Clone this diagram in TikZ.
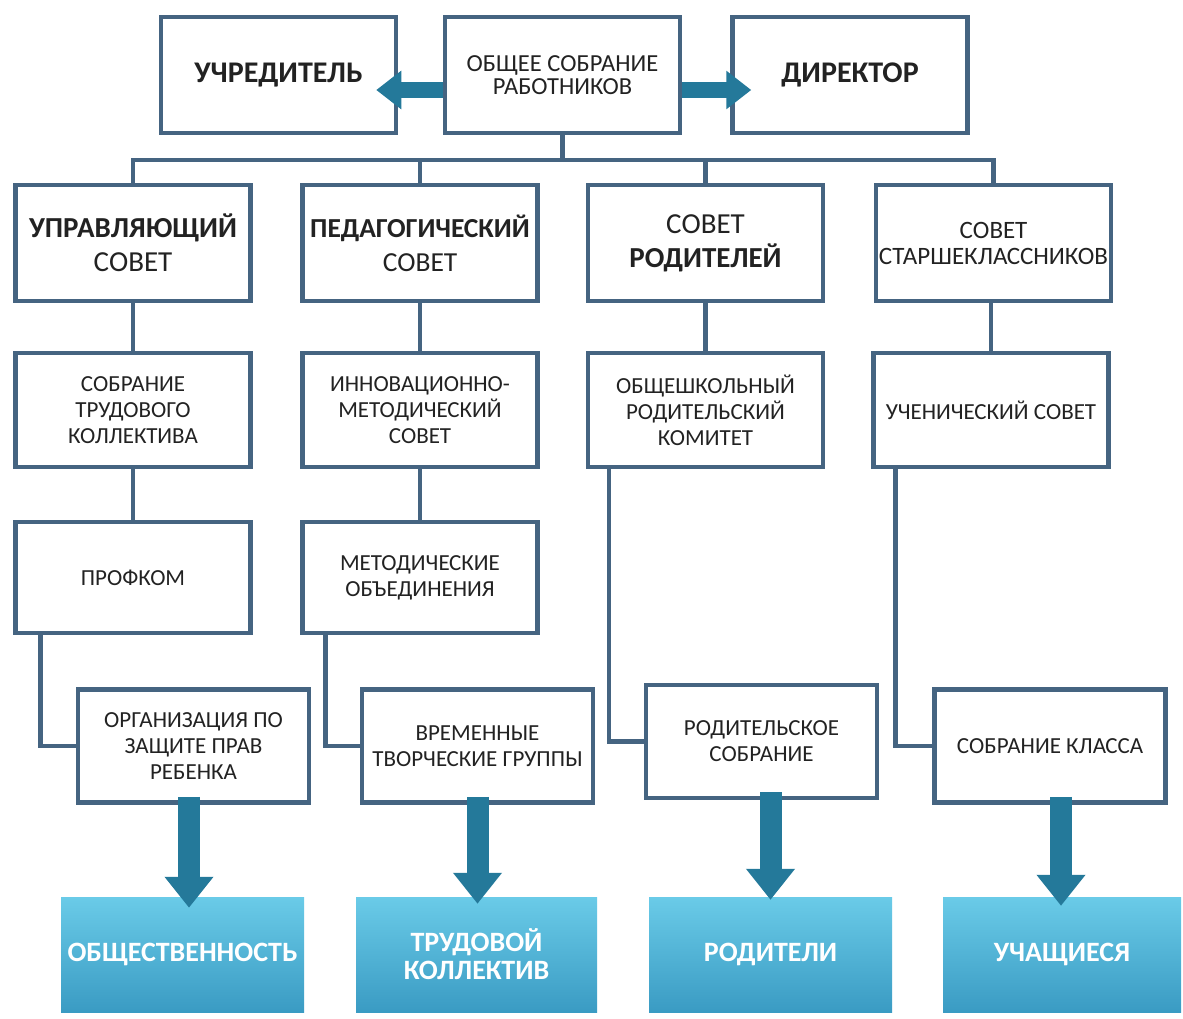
\documentclass[tikz,border=0pt]{standalone}
\usepackage{fontspec}
\setmainfont{Carlito}
\usetikzlibrary{calc,arrows.meta}
\definecolor{bord}{HTML}{456481}
\definecolor{arr}{HTML}{24799A}
\definecolor{ftop}{HTML}{6ACBE8}
\definecolor{fbot}{HTML}{3A9BC3}
\definecolor{txt}{HTML}{222222}
\newcommand{\myfs}[2]{\fontsize{#1}{#2}\selectfont}
\begin{document}
\begin{tikzpicture}[x=1pt,y=-1pt,
  box/.style={draw=bord, line width=4.5pt, fill=white, align=center, text=txt, inner sep=0pt},
  toprow/.style={box, minimum width=235pt, minimum height=116pt},
  midbox/.style={box, minimum width=235pt, minimum height=114pt},
  lowbox/.style={box, minimum width=231pt, minimum height=113pt},
  outbox/.style={top color=ftop, bottom color=fbot, draw=none, text=white, align=center,
     inner sep=0pt, minimum height=115pt, font=\bfseries\myfs{28}{28}},
  conn/.style={draw=bord, line width=4.5pt},
  bigarr/.style={draw=arr, line width=22pt, -{Triangle[width=47pt,length=31pt]}},
  toparr/.style={draw=arr, line width=16pt, -{Triangle[width=37pt,length=25pt]}},
  small/.style={font=\myfs{23}{26}}
]
\useasboundingbox (0,0) rectangle (1183,1019);
\fill[white] (0,0) rectangle (1183,1019);

% top row
\node[toprow, font=\bfseries\myfs{30}{34}] (uch) at (278.5,75) {\raisebox{-3pt}{УЧРЕДИТЕЛЬ}};
\node[toprow, font=\myfs{24.5}{23}] (obs) at (562.5,75) {ОБЩЕЕ СОБРАНИЕ\\РАБОТНИКОВ};
\node[toprow, font=\bfseries\myfs{30}{34}] (dir) at (850,75) {ДИРЕКТОР};

% second row
\node[midbox, minimum height=116pt, font=\myfs{29}{34}] (b1) at (133,243) {\bfseries УПРАВЛЯЮЩИЙ\\СОВЕТ};
\node[midbox, minimum height=116pt, font=\myfs{27.5}{34}] (b2) at (420,243) {\bfseries ПЕДАГОГИЧЕСКИЙ\\СОВЕТ};
\node[midbox, minimum height=116pt, font=\myfs{29}{34}] (b3) at (705.5,243) {СОВЕТ\\\bfseries РОДИТЕЛЕЙ};
\node[midbox, minimum height=116pt, font=\myfs{25}{26}] (b4) at (993.5,243) {СОВЕТ\\СТАРШЕКЛАССНИКОВ};

% third row
\node[midbox, small] (c1) at (133,410) {СОБРАНИЕ\\ТРУДОВОГО\\КОЛЛЕКТИВА};
\node[midbox, small] (c2) at (420,410) {ИННОВАЦИОННО-\\МЕТОДИЧЕСКИЙ\\СОВЕТ};
\node[midbox, small] (c3) at (705.5,410) {ОБЩЕШКОЛЬНЫЙ\\РОДИТЕЛЬСКИЙ\\КОМИТЕТ};
\node[midbox, small] (c4) at (991,410) {УЧЕНИЧЕСКИЙ СОВЕТ};

% fourth row
\node[midbox, minimum height=111pt, small] (d1) at (133,577.5) {ПРОФКОМ};
\node[midbox, minimum height=111pt, small] (d2) at (420,577.5) {МЕТОДИЧЕСКИЕ\\ОБЪЕДИНЕНИЯ};

% fifth row
\node[lowbox, small] (e1) at (193.5,746) {ОРГАНИЗАЦИЯ ПО\\ЗАЩИТЕ ПРАВ\\РЕБЕНКА};
\node[lowbox, small] (e2) at (477.5,746) {ВРЕМЕННЫЕ\\ТВОРЧЕСКИЕ ГРУППЫ};
\node[lowbox, small] (e3) at (761.5,741.5) {РОДИТЕЛЬСКОЕ\\СОБРАНИЕ};
\node[lowbox, small] (e4) at (1050,746) {СОБРАНИЕ КЛАССА};

% bottom boxes
\node[outbox, minimum width=243pt] (f1) at (182.5,954.5) {ОБЩЕСТВЕННОСТЬ};
\node[outbox, minimum width=241pt] (f2) at (476.5,954.5) {\raisebox{-4pt}{ТРУДОВОЙ}\\\raisebox{-4pt}{КОЛЛЕКТИВ}};
\node[outbox, minimum width=243pt] (f3) at (770.5,954.5) {РОДИТЕЛИ};
\node[outbox, minimum width=238pt] (f4) at (1062,954.5) {УЧАЩИЕСЯ};

% connectors
\coordinate (busy) at (0,160);
\draw[conn] (obs.south) -- (obs.south |- busy);
\draw[conn] (b1.north) |- (b4.north |- busy) -- (b4.north);
\draw[conn] (b2.north) -- (b2.north |- busy);
\draw[conn] (b3.north) -- (b3.north |- busy);
\draw[conn] (b1.south) -- (c1.north);
\draw[conn] (b2.south) -- (c2.north);
\draw[conn] (b3.south) -- (c3.north);
\draw[conn] (b4.south -| c4.north) -- (c4.north);
\draw[conn] (c1.south) -- (d1.north);
\draw[conn] (c2.south) -- (d2.north);
\draw[conn] ($(d1.south west)+(27,0)$) |- (e1.west);
\draw[conn] ($(d2.south west)+(25,0)$) |- (e2.west);
\draw[conn] ($(c3.south west)+(23,0)$) |- (e3.west);
\draw[conn] ($(c4.south west)+(24,0)$) |- (e4.west);

% arrows
\draw[toparr] ($(obs.west)+(0,15)$) -- ($(uch.east)+(-22,15)$);
\draw[toparr] ($(obs.east)+(0,15)$) -- ($(dir.west)+(21,15)$);
\draw[bigarr] ($(e1.south)+(-4.5,-8)$) -- ($(e1.south)+(-4.5,103)$);
\draw[bigarr] ($(e2.south)+(0,-8)$) -- ($(e2.south)+(0,99)$);
\draw[bigarr] ($(f3.north |- e3.south)+(0,-8)$) -- ($(f3.north)+(0,3)$);
\draw[bigarr] ($(f4.north |- e4.south)+(-1,-8)$) -- ($(f4.north)+(-1,9)$);
\end{tikzpicture}
\end{document}
